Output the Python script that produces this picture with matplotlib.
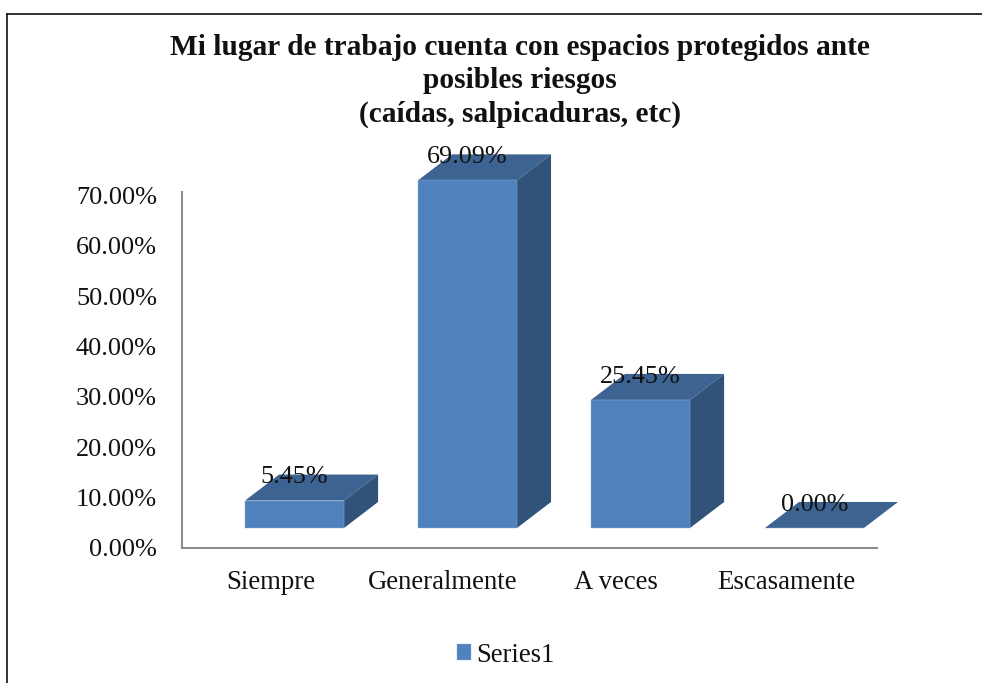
import matplotlib
matplotlib.use('Agg')
from matplotlib import pyplot as plt
from matplotlib.patches import Polygon
from matplotlib.lines import Line2D

plt.rcParams['font.family'] = ['Liberation Serif', 'DejaVu Serif']

categories = ['Siempre', 'Generalmente', 'A veces', 'Escasamente']
values = [5.45, 69.09, 25.45, 0.00]
yticks = [0, 10, 20, 30, 40, 50, 60, 70]
title = 'Mi lugar de trabajo cuenta con espacios protegidos ante\nposibles riesgos\n(caídas, salpicaduras, etc)'

W, H = 982, 683
FRONT = '#4F81BD'
TOP = '#3C6391'
SIDE = '#325379'
AXIS = '#8C8C8C'

fig = plt.figure(figsize=(W/100, H/100), dpi=100)
# axes box in pixels: x 182-877, y 192-547.7
ax = fig.add_axes([182/W, 1-547.7/H, 695/W, 355.7/H])
ax.set_xlim(0, 4)
ax.set_ylim(0, 70.7)

# fake 3d: floor offset and depth of the bars, in data units
floor = 3.92
bar_w = 0.57
dx = 0.196
dy = 5.17
lefts = [0.3626, 1.358, 2.354, 3.355]

bars = ax.bar(lefts, values, width=bar_w, bottom=floor, align='edge', color=FRONT,
              edgecolor='#8FAFD6', linewidth=0.3, label='Series1', zorder=3, clip_on=False)

for x0, v in zip(lefts, values):
    y1 = floor + v
    x1 = x0 + bar_w
    ax.add_patch(Polygon([(x0, y1), (x1, y1), (x1+dx, y1+dy), (x0+dx, y1+dy)],
                         facecolor=TOP, edgecolor='none', zorder=2, clip_on=False))
    if v > 0:
        ax.add_patch(Polygon([(x1, floor), (x1+dx, floor+dy), (x1+dx, y1+dy), (x1, y1)],
                             facecolor=SIDE, edgecolor='none', zorder=2, clip_on=False))
    ax.text(x0+bar_w/2, y1+dy-0.55, '%.2f%%' % v, ha='center', va='center', fontsize=18.8,
            color='#111111', zorder=5, clip_on=False)

ax.set_xticks([0.51, 1.5, 2.5, 3.48])
ax.set_xticklabels(categories)
ax.set_yticks(yticks)
ax.set_yticklabels(['%.2f%%' % t for t in yticks])
ax.tick_params(axis='both', length=0, labelcolor='#111111')
ax.tick_params(axis='y', pad=18, labelsize=18.9)
ax.tick_params(axis='x', pad=16, labelsize=19.3)

for s in ['top', 'right']:
    ax.spines[s].set_visible(False)
for s in ['left', 'bottom']:
    ax.spines[s].set_color(AXIS)
    ax.spines[s].set_linewidth(1.5)

fig.text(520/W, 1-81/H, title, ha='center', va='center', fontsize=21.2, fontweight='bold',
         color='#111111', linespacing=1.31)

fig.legend(handles=[bars], labels=['Series1'], loc='center', bbox_to_anchor=(505.5/W, 1-655/H),
           frameon=False, fontsize=19.2, handlelength=0.52, handleheight=0.52,
           handletextpad=0.2, labelcolor='#111111')

# outer frame, only left and top fall inside the image
fig.add_artist(Line2D([7/W, 7/W], [0, 1-14/H], color='#111111', lw=1.2))
fig.add_artist(Line2D([7/W, 1], [1-14/H, 1-14/H], color='#111111', lw=1.2))

fig.savefig('out.png', dpi=100)
